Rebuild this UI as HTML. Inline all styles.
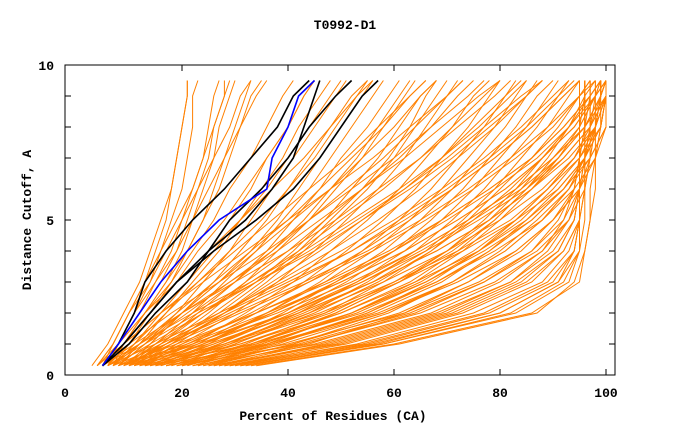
<!DOCTYPE html>
<html><head><meta charset="utf-8"><style>
body{margin:0;background:#fff;}
svg{display:block;font-family:"Liberation Mono",monospace;font-weight:bold;font-size:13px;}
</style></head><body>
<svg id="chart" width="680" height="440">
<text x="345" y="29" text-anchor="middle">T0992-D1</text>
<text x="333" y="420" text-anchor="middle">Percent of Residues (CA)</text>
<text transform="translate(31,220) rotate(-90)" text-anchor="middle">Distance Cutoff, A</text>
<g id="ticks"></g>
<g id="series"></g>
<rect x="65" y="65" width="550" height="310" fill="none" stroke="#000" stroke-width="1"/>
</svg>
<script>
const cutoffs=[0.3,1,2,3,4,5,6,7,8,9,9.5];
const xTicks=[0,20,40,60,80,100];
const yTickLabels=[0,5,10];
const orange=[
[5,7,10,13,15,17,18,19,20,21,21],[5,8,11,14,16,18,20,21,22,22,23],[6,8,12,15,18,20,22,24,25,26,27],
[6,9,13,17,20,22,24,26,27,29,30],[7,10,14,18,21,24,26,28,30,32,33],[5,8,12,16,19,21,23,25,26,28,28],
[7,9,13,17,21,24,27,29,31,33,35],[7,11,16,21,25,29,33,36,40,43,45],[8,12,17,22,27,31,35,39,42,46,48],
[8,13,19,24,29,33,37,41,45,49,51],[9,14,20,26,31,36,40,44,48,52,55],[8,13,20,27,33,38,42,46,50,54,56],
[10,15,22,28,34,39,44,48,52,56,58],[10,16,23,30,36,41,46,50,55,59,61],[11,17,25,32,38,44,49,54,58,62,64],
[9,15,22,30,37,43,48,53,57,61,63],[12,18,26,34,41,47,52,57,61,65,68],[12,19,28,36,43,49,55,60,64,68,70],
[10,17,27,35,42,48,54,59,63,66,68],[13,20,30,38,45,51,57,62,66,70,72],[13,22,32,41,48,55,61,66,71,75,78],
[14,23,34,43,51,58,64,69,74,78,80],[15,25,36,46,54,61,67,72,77,81,83],[14,24,36,47,56,63,69,74,79,83,85],
[16,27,39,49,58,65,71,76,81,85,87],[15,26,40,51,60,67,73,78,83,87,90],[17,29,42,53,62,69,75,80,85,89,91],
[18,30,44,55,64,71,77,82,87,91,93],[16,28,43,56,66,73,79,84,89,93,95],[19,32,47,58,67,74,80,86,91,95,97],
[20,34,49,61,70,77,83,88,93,97,99],[18,33,50,63,72,79,85,90,95,98,100],[21,36,52,64,73,80,86,91,96,99,100],
[22,38,55,67,76,83,89,94,98,100,100],[20,37,56,69,78,85,91,96,99,100,100],[23,41,59,71,80,87,93,97,100,100,100],
[18,30,45,57,67,75,82,88,93,97,99],[20,33,49,61,71,79,85,91,95,98,99],[21,35,52,65,75,83,89,94,97,99,100],
[22,37,55,68,78,86,92,96,98,99,99],[23,39,58,71,81,88,93,96,97,97,97],[24,41,61,74,84,90,94,95,96,96,96],
[25,43,64,77,86,91,94,95,95,95,95],[26,45,67,80,88,92,94,95,95,95,95],[27,47,69,82,89,93,95,95,96,96,96],
[27,49,71,84,91,94,95,96,97,97,97],[28,51,73,86,92,95,96,97,98,98,98],[29,53,75,88,93,95,96,96,96,96,96],
[30,55,78,90,94,95,95,95,95,95,95],[31,57,80,91,95,95,95,95,95,95,95],[32,58,83,93,95,95,95,95,95,95,95],
[33,60,86,95,96,97,97,98,98,99,99],[8,16,28,40,52,62,71,79,86,92,95],[9,18,31,44,56,66,75,83,90,95,98],
[10,20,34,47,59,69,78,86,92,97,99],[11,22,37,50,62,72,81,88,94,98,100],[12,24,40,53,64,74,83,90,96,99,100],
[13,26,42,56,68,78,86,92,97,100,100],[14,28,44,58,70,80,88,94,98,100,100],[15,29,47,61,73,83,91,96,99,100,100],
[6,12,20,29,38,46,54,62,69,76,80],[7,14,24,34,44,53,62,70,77,84,88],[9,17,29,41,52,61,70,78,85,91,94],
[16,31,48,60,70,78,84,89,93,96,98],[19,35,53,66,76,84,90,95,98,100,100],[24,44,62,74,83,90,95,98,99,100,100],
[4,9,16,24,32,40,48,56,63,70,73],[5,10,18,27,36,44,52,60,67,74,77],[5,11,20,30,40,49,57,65,72,79,82],
[6,13,23,34,45,54,63,71,78,85,88],[6,15,27,39,50,60,69,77,84,90,93],[7,17,30,43,55,65,74,82,89,95,97],
[8,19,34,48,60,70,79,87,93,98,100],[9,22,38,52,64,74,83,90,96,100,100],[10,25,42,56,68,78,86,93,98,100,100],
[11,28,46,60,72,82,89,95,99,100,100],[12,31,50,64,76,85,92,97,100,100,100],[13,34,54,68,79,88,94,98,100,100,100],
[15,37,58,72,83,90,95,97,98,99,99],[17,40,62,76,86,92,95,96,96,97,97],[19,43,65,79,88,93,95,95,95,96,96],
[22,46,68,82,90,94,95,95,95,95,95],[25,50,72,85,92,95,95,95,95,95,95],[28,54,77,89,94,95,95,95,96,96,96],
[31,58,82,92,95,96,96,96,97,97,97],[34,61,87,94,96,97,98,98,99,99,100],[6,10,15,21,26,31,36,40,44,48,50],
[7,11,17,23,29,35,40,45,49,53,55],[5,9,14,19,23,28,32,36,40,43,45],[6,9,13,18,22,26,29,33,36,39,41],
[5,8,11,15,19,22,25,28,31,34,36],[4,7,10,13,16,19,22,24,26,28,29],[8,13,21,29,37,44,51,58,64,70,73],
[9,15,24,33,42,50,58,65,71,77,80],[11,18,28,38,48,57,65,72,79,85,88],[12,21,33,44,54,63,71,79,86,92,95],
[14,24,37,49,60,69,78,86,92,97,99],[16,27,41,54,65,75,84,91,96,99,100],[10,14,20,27,34,41,48,54,60,65,68],
[11,16,24,32,40,47,54,61,67,72,75],[13,19,28,37,46,54,62,69,75,81,84],[7,12,19,26,33,40,46,52,58,63,66],
[4,8,13,19,25,31,37,43,48,53,56],[5,9,16,23,30,37,44,51,57,63,66],[3,6,9,12,14,16,18,19,20,21,21],
[4,7,10,14,17,20,23,26,29,31,33],[5,12,22,33,43,52,61,69,76,82,85],[8,21,36,50,62,72,81,88,94,98,99],
[14,33,52,66,77,86,92,96,98,99,99],[20,42,63,77,87,93,96,97,97,98,98],[26,48,70,83,91,94,95,95,95,95,95],
[29,56,80,91,94,95,95,95,95,96,96],[17,36,57,71,81,88,93,96,98,99,99],[10,23,40,54,66,76,85,92,97,100,100]
];
const black=[
[5,8,11,13,17,22,28,33,38,41,44],
[5,9,14,19,25,32,37,41,43,45,46],
[5,10,15,21,25,29,35,40,44,49,52],
[5,9,14,19,26,34,41,46,50,54,57]
];
const blue=[5,8,12,16,21,27,36,37,40,42,45];
const X0=76,XS=5.3,Y0=375,YS=31;
const sx=v=>X0+v*XS, sy=v=>Y0-v*YS;
const NS="http://www.w3.org/2000/svg";
const g=document.getElementById('series'), tg=document.getElementById('ticks');
function line(vals,color,w,name){
  const p=document.createElementNS(NS,'polyline');
  p.setAttribute('points',vals.map((v,i)=>sx(v)+','+sy(cutoffs[i])).join(' '));
  p.setAttribute('fill','none');p.setAttribute('stroke',color);p.setAttribute('stroke-width',w);
  
  
  g.appendChild(p);
}
orange.forEach(s=>line(s,'#ff8000',1,'model-line'));
black.forEach(s=>line(s,'#000',1.6,'highlight-line'));
line(blue,'#0000ff',1.6,'blue-line');
for(let k=0;k<=10;k++){
  const y=sy(k);
  const a=document.createElementNS(NS,'path');
  a.setAttribute('d',`M65 ${y}H71M615 ${y}H609`);a.setAttribute('stroke','#000');
  
  
  tg.appendChild(a);
}
yTickLabels.forEach(v=>{
  const t=document.createElementNS(NS,'text');
  t.setAttribute('x',54);t.setAttribute('y',sy(v)+5);t.setAttribute('text-anchor','end');
  t.textContent=v;
  
  
  tg.appendChild(t);
});
xTicks.forEach(v=>{
  const x=v===0?65:sx(v);
  const a=document.createElementNS(NS,'path');
  a.setAttribute('d',`M${x} 375V369M${x} 65V71`);a.setAttribute('stroke','#000');
  
  
  tg.appendChild(a);
  const t=document.createElementNS(NS,'text');
  t.setAttribute('x',x);t.setAttribute('y',397);t.setAttribute('text-anchor','middle');
  t.textContent=v;
  
  
  tg.appendChild(t);
});
</script>
</body></html>
